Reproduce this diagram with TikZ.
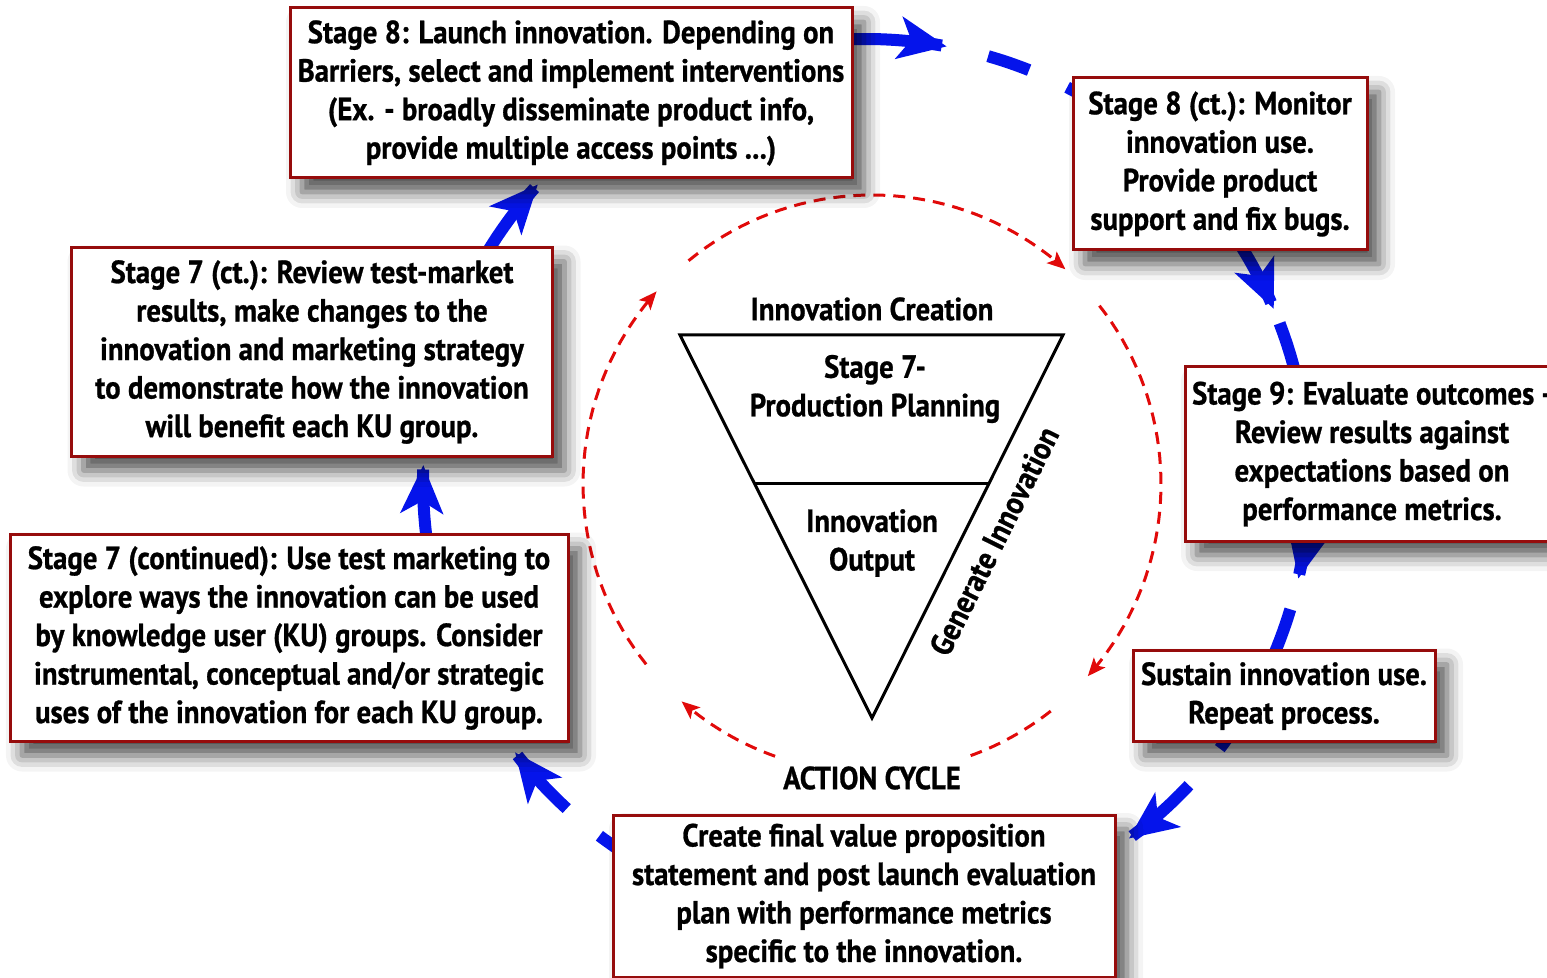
\documentclass[tikz,border=0pt]{standalone}
\usepackage{fontspec}
\setmainfont{PT Sans}[FakeStretch=0.9, BoldFeatures={FakeBold=0.8}]
\usetikzlibrary{arrows.meta,shadows.blur}
\definecolor{boxred}{RGB}{150,12,12}
\definecolor{arrblue}{RGB}{5,20,235}
\definecolor{arcred}{RGB}{225,10,10}
\newcommand\txt{\bfseries\fontsize{16}{19.25}\selectfont}
\begin{document}
\begin{tikzpicture}[x=0.5pt,y=-0.5pt,
 box/.style={draw=boxred, line width=1.5pt, fill=white, align=center, inner sep=0pt, font=\txt,
   blur shadow={shadow xshift=6pt, shadow yshift=-7pt, shadow blur radius=8pt, shadow opacity=70}},
 lbl/.style={font=\txt, align=center, inner sep=0pt},
 bluepath/.style={draw=arrblue, line width=6pt},
 bluearr/.style={bluepath, -{Stealth[length=24pt,width=21pt,inset=6pt]}},
 redarc/.style={draw=arcred, line width=1.5pt, dash pattern=on 6pt off 4pt},
 redarr/.style={redarc, -{Stealth[length=9pt,width=7.5pt,inset=2pt]}},
 tri/.style={draw=black, line width=1.5pt}
]
\useasboundingbox (0,0) rectangle (1547,978);
% outer blue cycle
\draw[bluearr]  plot[domain=-92:-79.5,samples=20] ({866+443*cos(\x)},{482+443*sin(\x)});
\draw[bluepath] plot[domain=-74:-68.4,samples=10] ({866+443*cos(\x)},{482+443*sin(\x)});
\draw[bluepath] plot[domain=-63:-50,samples=10] ({866+443*cos(\x)},{482+443*sin(\x)});
\draw[bluearr]  plot[domain=-40:-23,samples=20] ({866+443*cos(\x)},{482+443*sin(\x)});
\draw[bluepath] plot[domain=-21:-8,samples=10] ({866+443*cos(\x)},{482+443*sin(\x)});
\draw[bluearr]  plot[domain=2:12.6,samples=20] ({866+443*cos(\x)},{482+443*sin(\x)});
\draw[bluepath] plot[domain=16.7:26,samples=10] ({866+443*cos(\x)},{482+443*sin(\x)});
\draw[bluepath] plot[domain=30:37,samples=10] ({866+443*cos(\x)},{482+443*sin(\x)});
\draw[bluearr]  plot[domain=43.2:53.6,samples=20] ({866+443*cos(\x)},{482+443*sin(\x)});
\draw[bluepath] plot[domain=120:127,samples=10] ({866+443*cos(\x)},{482+443*sin(\x)});
\draw[bluearr]  plot[domain=132.5:142.4,samples=20] ({866+443*cos(\x)},{482+443*sin(\x)});
\draw[bluearr]  plot[domain=171:182.2,samples=20] ({866+443*cos(\x)},{482+443*sin(\x)});
\draw[bluearr]  plot[domain=210:222.2,samples=20] ({866+443*cos(\x)},{482+443*sin(\x)});
% inner red action cycle
\draw[redarr] plot[domain=230.6:312,samples=40] ({872+289*cos(\x)},{484+289*sin(\x)});
\draw[redarr] plot[domain=321.9:401.7,samples=40] ({872+289*cos(\x)},{484+289*sin(\x)});
\draw[redarc] plot[domain=51.8:70.4,samples=15] ({872+289*cos(\x)},{484+289*sin(\x)});
\draw[redarr] plot[domain=109.6:131.2,samples=15] ({872+289*cos(\x)},{484+289*sin(\x)});
\draw[redarr] plot[domain=141.4:221.8,samples=40] ({872+289*cos(\x)},{484+289*sin(\x)});
% triangle
\coordinate (tl) at (680,335);
\coordinate (tr) at (1063,335);
\coordinate (tb) at (872,718);
\coordinate (ml) at (754.2,483);
\coordinate (mr) at (989.2,483);
\draw[tri, line join=miter] (tl) -- (tr) -- (tb) -- cycle;
\draw[tri] (ml) -- (mr);
\node[lbl] (ic) at (872,309) {Innovation Creation};
\node[lbl] (pp) at (875,389) {Stage 7-\\Production Planning};
\node[lbl] (io) at (872,543) {Innovation\\Output};
\node[lbl, rotate=63.5] (gi) at (994,541) {Generate Innovation};
\node[lbl] (ac) at (872,778) {ACTION CYCLE};
% boxes
\node[box, minimum width=281pt, minimum height=85pt] (s8) at (571,93)
 {Stage 8: Launch innovation. Depending on\\Barriers, select and implement interventions\\(Ex. - broadly disseminate product info,\\provide multiple access points ...)};
\node[box, minimum width=147pt, minimum height=86pt] (s8c) at (1220,164)
 {Stage 8 (ct.): Monitor\\innovation use.\\Provide product\\support and fix bugs.};
\node[box, minimum width=187pt, minimum height=87pt] (s9) at (1372,454)
 {Stage 9: Evaluate outcomes -\\Review results against\\expectations based on\\performance metrics.};
\node[box, minimum width=151pt, minimum height=45.5pt] (sus) at (1284,696)
 {Sustain innovation use.\\Repeat process.};
\node[box, minimum width=251pt, minimum height=81pt] (fin) at (864,896)
 {Create final value proposition\\statement and post launch evaluation\\plan with performance metrics\\specific to the innovation.};
\node[box, minimum width=279pt, minimum height=103.5pt] (s7c) at (289,638)
 {Stage 7 (continued): Use test marketing to\\explore ways the innovation can be used\\by knowledge user (KU) groups. Consider\\instrumental, conceptual and/or strategic\\uses of the innovation for each KU group.};
\node[box, minimum width=240.5pt, minimum height=104.5pt] (s7ct) at (312,352)
 {Stage 7 (ct.): Review test-market\\results, make changes to the\\innovation and marketing strategy\\to demonstrate how the innovation\\will benefit each KU group.};
\end{tikzpicture}
\end{document}
